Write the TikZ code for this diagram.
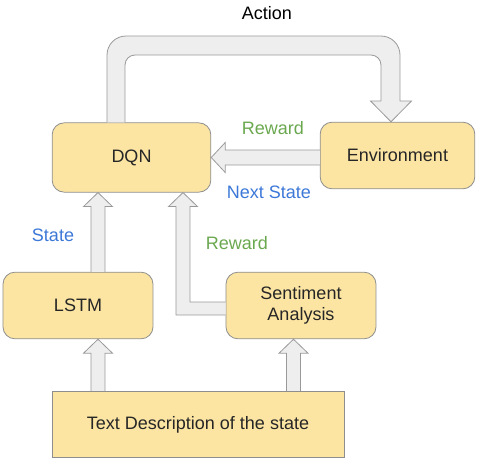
\documentclass[tikz,border=0pt]{standalone}
\usepackage{fontspec}
\setmainfont{Liberation Sans}
\usetikzlibrary{calc}
\usetikzlibrary{positioning}
\definecolor{boxFill}{HTML}{FCE5A3}
\definecolor{boxLine}{HTML}{8E8E8E}
\definecolor{arrowFill}{HTML}{EEEEEE}
\definecolor{arrowLine}{HTML}{999999}
\definecolor{rewardGreen}{HTML}{6AA84F}
\definecolor{stateBlue}{HTML}{3C78D8}
\tikzset{
  font={\fontsize{13.5pt}{16pt}\selectfont}
}
\tikzstyle{module}=[rectangle,rounded corners=9pt,draw=boxLine,fill=boxFill,line width=0.6pt,align=center,text=black!85,minimum height=50pt,inner sep=0pt]
\tikzstyle{blockarrow}=[draw=arrowLine,fill=arrowFill,line width=0.6pt,line join=miter]
\tikzstyle{rewardlabel}=[text=rewardGreen]
\tikzstyle{statelabel}=[text=stateBlue]
% vertical block arrow: column, from node (below), to node (above)
\newcommand{\blockUp}[3]{
    \draw[blockarrow] ($(#1 |- #2.north)+(-7,0)$) -- ($(#1 |- #3.south)+(-7,14)$) -- ++(-7.5,0)
        -- (#1 |- #3.south) -- ($(#1 |- #3.south)+(14.5,14)$) -- ++(-7.5,0) -- ($(#1 |- #2.north)+(7,0)$);
}

\begin{document}
\begin{tikzpicture}[x=0.75pt,y=-0.75pt]
    \useasboundingbox (0,0) rectangle (480,461);

    % boxes
    \node[module,minimum width=119pt,minimum height=52pt] (dqn) at (131.5,157.5) {DQN};
    \node[module,minimum width=116pt] (env) at (397.5,155.5) {Environment};
    \node[module,minimum width=112.5pt] (lstm) at (78,305.5) {LSTM};
    \node[module,minimum width=112.5pt] (senti) at (301,305.5) {Sentiment\\Analysis};
    \node[module,rounded corners=0pt,minimum width=219pt] (text) at (198,424.5) {Text Description of the state};

    \coordinate (colLstm) at (98,0);
    \coordinate (colSenti) at (293.5,0);

    % arrows into the modules
    \blockUp{colLstm}{text}{lstm}
    \blockUp{colSenti}{text}{senti}
    \blockUp{colLstm}{lstm}{dqn}

    % sentiment -> dqn
    \draw[blockarrow] ($(senti.west)+(0,9.5)$) -| ($(dqn.south)+(44.5,14)$) -- ++(-7.5,0) -- ++(14.5,-14)
        -- ++(14.5,14) -- ++(-7.5,0) |- ($(senti.west)+(0,-3.5)$);

    % environment -> dqn
    \draw[blockarrow] ($(env.west |- dqn.east)+(0,7.5)$) -- ($(dqn.east)+(14,7.5)$) -- ++(0,7.5)
        -- (dqn.east) -- ++(14,-15) -- ++(0,7.5) -- ($(env.west |- dqn.east)+(0,-7.5)$);

    % dqn -> environment (action)
    \draw[blockarrow] (107,0 |- dqn.north) -- (107,55) .. controls (107,44.5) and (115.5,36) .. (126,36)
        -- (381,36) .. controls (391.5,36) and (400,44.5) .. (400,55) -- (400,101) -- (411.5,101)
        -- (391,0 |- env.north) -- (370.5,101) -- (381,101) -- (381,65)
        .. controls (381,59.5) and (376.5,55) .. (371,55) -- (135,55)
        .. controls (129.5,55) and (125,59.5) .. (125,65) -- (125,0 |- dqn.north);

    % labels
    \node (action) at (267,13) {Action};
    \node[rewardlabel] (envReward) at (273,128) {Reward};
    \node[statelabel] (nextState) at (269,192) {Next State};
    \node[statelabel] (lstmState) at (53,235) {State};
    \node[rewardlabel] (sentiReward) at (237,243) {Reward};
\end{tikzpicture}
\end{document}
